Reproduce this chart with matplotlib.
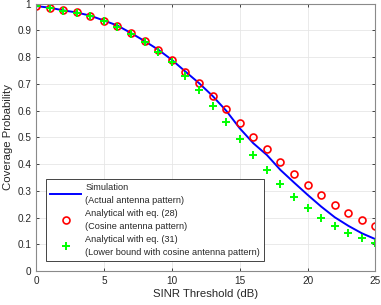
import numpy as np
import matplotlib
matplotlib.use('Agg')
import matplotlib.pyplot as plt

plt.rcParams['font.family'] = ['Liberation Sans', 'DejaVu Sans']

# SINR threshold (dB)
sinr = np.arange(0, 26)

# Simulation (actual antenna pattern)
sim = [0.991, 0.985, 0.975, 0.967, 0.955, 0.937, 0.918, 0.890, 0.860, 0.828,
       0.790, 0.746, 0.703, 0.655, 0.600, 0.534, 0.478, 0.434, 0.378, 0.331,
       0.285, 0.241, 0.201, 0.169, 0.141, 0.119]

# Analytical eq. (28), cosine antenna pattern
eq28 = [0.991, 0.985, 0.975, 0.967, 0.955, 0.937, 0.918, 0.890, 0.860, 0.828,
        0.790, 0.746, 0.703, 0.654, 0.606, 0.553, 0.503, 0.456, 0.407, 0.363,
        0.322, 0.283, 0.248, 0.217, 0.190, 0.167]

# Analytical eq. (31), lower bound
eq31 = [0.991, 0.984, 0.974, 0.965, 0.952, 0.934, 0.914, 0.886, 0.855, 0.821,
        0.782, 0.730, 0.677, 0.617, 0.556, 0.494, 0.433, 0.377, 0.326, 0.278,
        0.235, 0.200, 0.170, 0.143, 0.122, 0.105]

fig = plt.figure(figsize=(3.81, 3.05), dpi=100)
ax = fig.add_axes([0.0945, 0.1115, 0.891, 0.8765])

ax.plot(sinr, sim, color='#0000ff', lw=1.4,
        label='Simulation\n(Actual antenna pattern)')
ax.plot(sinr, eq28, 'o', mfc='none', mec='#ff0000', ms=5, mew=1.2,
        label='Analytical with eq. (28)\n(Cosine antenna pattern)')
ax.plot(sinr, eq31, '+', color='#00ff00', ms=6, mew=1.4,
        label='Analytical with eq. (31)\n(Lower bound with cosine antenna pattern)')

ax.set_xlim(0, 25)
ax.set_ylim(0, 1)
ax.set_xticks(np.arange(0, 26, 5))
ax.set_yticks(np.arange(0, 1.01, 0.1))
ax.set_yticklabels(['0', '0.1', '0.2', '0.3', '0.4', '0.5', '0.6', '0.7', '0.8', '0.9', '1'])
ax.grid(True, color='#e6e6e6', lw=0.6)
ax.set_axisbelow(True)
ax.tick_params(direction='in', top=True, right=True, labelsize=7.2,
               colors='#262626', length=2.5, width=0.6, pad=3.5)
for s in ax.spines.values():
    s.set_color('#8a8a8a')
    s.set_linewidth(0.8)

ax.set_xlabel('SINR Threshold (dB)', fontsize=8.2, color='#262626', labelpad=2)
ax.set_ylabel('Coverage Probability', fontsize=8.2, color='#262626', labelpad=3)

leg = ax.legend(loc='lower left', bbox_to_anchor=(0.0295, 0.0385), borderaxespad=0,
                fontsize=6.6, fancybox=False, edgecolor='#262626', framealpha=1,
                handlelength=3.4, handletextpad=0.45, labelspacing=0.45,
                borderpad=0.45)
leg.get_frame().set_linewidth(0.6)
for t in leg.get_texts():
    t.set_linespacing(1.55)
    t.set_color('#262626')

fig.savefig('out.png', dpi=100)
